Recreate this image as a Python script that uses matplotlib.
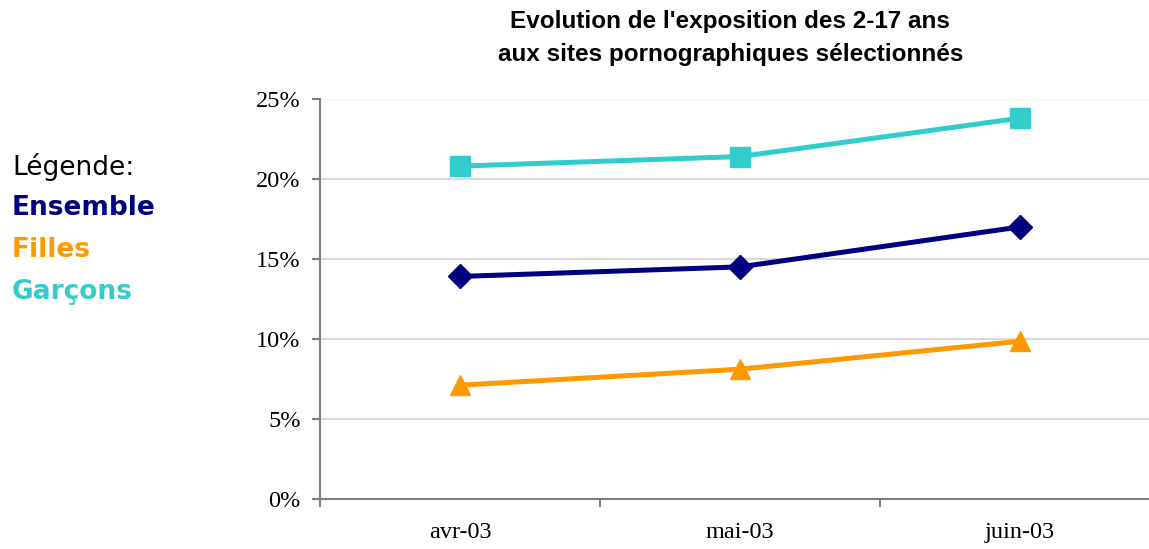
import numpy as np
import matplotlib.pyplot as plt
from matplotlib.ticker import FuncFormatter

# data (percent)
mois = ['avr-03', 'mai-03', 'juin-03']
ensemble = [13.9, 14.5, 17.0]
filles = [7.1, 8.1, 9.85]
garcons = [20.8, 21.4, 23.8]

c_ens = '#000080'
c_fil = '#FF9900'
c_gar = '#33CCCC'

fig = plt.figure(figsize=(11.49, 5.49), dpi=100)
ax = fig.add_axes([0.2785, 0.0916, 0.7215, 0.7281])

x = np.arange(len(mois))
ax.plot(x, garcons, color=c_gar, lw=3.6, marker='s', ms=14.5, zorder=3)
ax.plot(x, ensemble, color=c_ens, lw=3.6, marker='D', ms=12, zorder=3)
ax.plot(x, filles, color=c_fil, lw=3.6, marker='^', ms=14.5, zorder=3)

ax.set_yticks(np.arange(0, 26, 5))
ax.yaxis.set_major_formatter(FuncFormatter(lambda v, p: '%d%%' % v))
for v in range(5, 26, 5):
    ax.axhline(v, color='#d9d9d9' if v < 25 else '#f4f4f4', lw=1.5, zorder=1)

# ticks at category boundaries, labels centred
ax.set_xticks([-0.5, 0.5, 1.5, 2.5])
ax.set_xticklabels([])
ax.set_xticks(x, minor=True)
ax.set_xticklabels(mois, minor=True)
ax.tick_params(axis='x', which='minor', length=0, pad=17)
ax.tick_params(axis='x', which='major', length=6, width=1.5, color='#808080', direction='out')
ax.tick_params(axis='y', length=6, width=1.5, color='#808080', direction='out', pad=8)
ax.set_ylim(0, 25)
ax.set_xlim(-0.5, 2.46)

for lab in ax.get_xticklabels(minor=True) + ax.get_yticklabels():
    lab.set_fontfamily('Liberation Serif')
    lab.set_fontsize(17.5)

for s in ['top', 'right']:
    ax.spines[s].set_visible(False)
for s in ['left', 'bottom']:
    ax.spines[s].set_color('#808080')
    ax.spines[s].set_linewidth(1.5)

fig.text(0.6357, 0.961, "Evolution de l'exposition des 2-17 ans", ha='center', va='center',
         fontfamily='Liberation Sans', fontweight='bold', fontsize=17.5)
fig.text(0.6357, 0.901, "aux sites pornographiques sélectionnés", ha='center', va='center',
         fontfamily='Liberation Sans', fontweight='bold', fontsize=17.5)

fig.text(0.0105, 1 - 167/549, 'Légende:', ha='left', va='center', fontfamily='DejaVu Sans',
         fontsize=19, color='black')
fig.text(0.0105, 1 - 208/549, 'Ensemble', ha='left', va='center', fontfamily='DejaVu Sans',
         fontsize=19, fontweight='bold', color=c_ens)
fig.text(0.0105, 1 - 250/549, 'Filles', ha='left', va='center', fontfamily='DejaVu Sans',
         fontsize=19, fontweight='bold', color=c_fil)
fig.text(0.0105, 1 - 292/549, 'Garçons', ha='left', va='center', fontfamily='DejaVu Sans',
         fontsize=19, fontweight='bold', color=c_gar)

fig.savefig('out.png', dpi=100)
